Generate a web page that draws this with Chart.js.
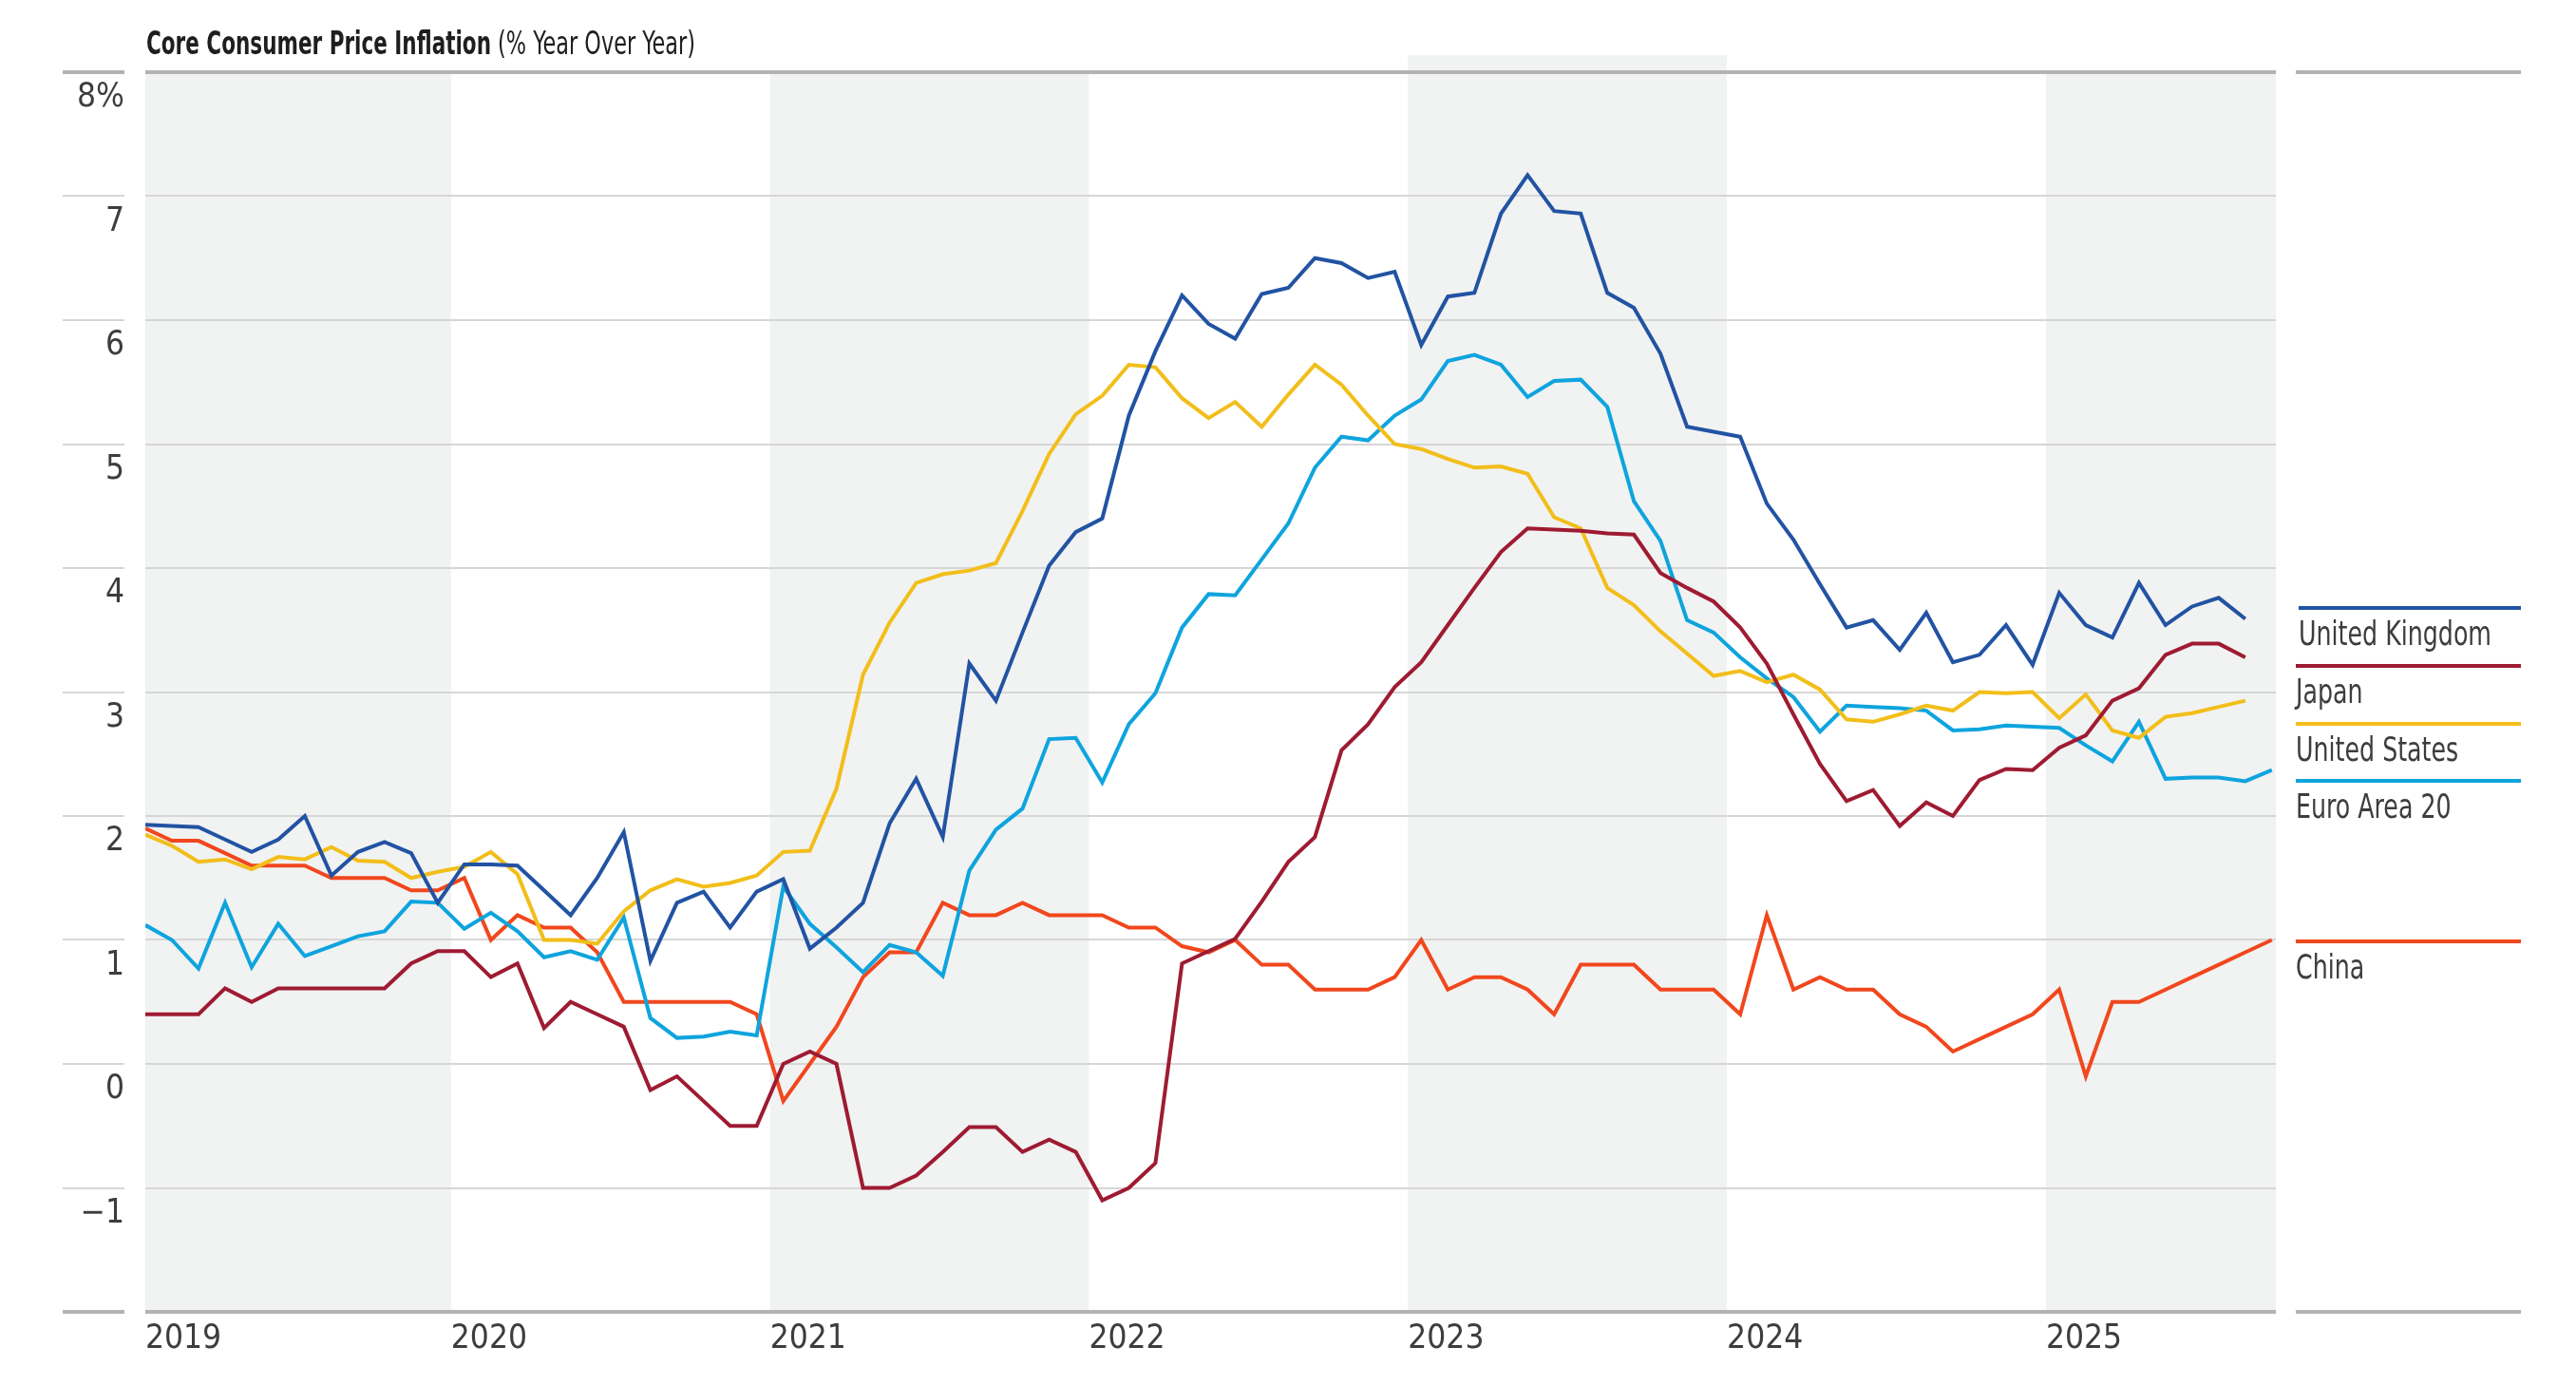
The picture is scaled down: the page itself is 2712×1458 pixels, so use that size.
<!DOCTYPE html>
<html>
<head>
<meta charset="utf-8">
<title>Core Consumer Price Inflation</title>
<script src="https://cdn.jsdelivr.net/npm/chart.js@4.4.1/dist/chart.umd.min.js"></script>
<style>
  html, body { margin: 0; padding: 0; background: #fff; }
  #wrap { width: 2712px; height: 1458px; position: relative; }
</style>
</head>
<body>
<div id="wrap"><canvas id="myChart" width="2712" height="1458"></canvas></div>
<script>
const FONT = "'Liberation Sans Narrow', 'Arial Narrow', 'DejaVu Sans Condensed', sans-serif";

// monthly observations, Jan 2019 .. Sep 2025
const months = [];
for (let yr = 2019; yr <= 2025; yr++) {
  for (let mo = 1; mo <= 12; mo++) months.push(yr + '-' + String(mo).padStart(2, '0'));
}
months.length = 81;

const yearLabels = ['2019', '2020', '2021', '2022', '2023', '2024', '2025'];
const shadedYears = ['2019', '2021', '2023', '2025'];
const yTicks = [-2, -1, 0, 1, 2, 3, 4, 5, 6, 7, 8];

const seriesNames = ['United Kingdom', 'Japan', 'United States', 'Euro Area 20', 'China'];
const seriesColors = ['#2253a3', '#9e1b32', '#f2be1a', '#0ea4de', '#f1471d'];

const ukCore = [1.93, 1.92, 1.91, 1.81, 1.71, 1.81, 2.0, 1.52, 1.71, 1.79, 1.7, 1.3,
  1.61, 1.61, 1.6, 1.4, 1.2, 1.5, 1.87, 0.83, 1.3, 1.39, 1.1, 1.39,
  1.49, 0.93, 1.1, 1.3, 1.94, 2.3, 1.83, 3.23, 2.93, 3.48, 4.02, 4.29,
  4.4, 5.23, 5.75, 6.2, 5.97, 5.85, 6.21, 6.26, 6.5, 6.46, 6.34, 6.39,
  5.8, 6.19, 6.22, 6.86, 7.17, 6.88, 6.86, 6.22, 6.1, 5.73, 5.14, 5.1,
  5.06, 4.52, 4.23, 3.87, 3.52, 3.58, 3.34, 3.64, 3.24, 3.3, 3.54, 3.22,
  3.8, 3.54, 3.44, 3.88, 3.54, 3.69, 3.76, 3.59];

const japanCore = [0.4, 0.4, 0.4, 0.61, 0.5, 0.61, 0.61, 0.61, 0.61, 0.61, 0.81, 0.91,
  0.91, 0.7, 0.81, 0.29, 0.5, 0.4, 0.3, -0.21, -0.1, -0.3, -0.5, -0.5,
  0.0, 0.1, 0.0, -1.0, -1.0, -0.9, -0.71, -0.51, -0.51, -0.71, -0.61, -0.71,
  -1.1, -1.0, -0.8, 0.81, 0.91, 1.01, 1.31, 1.63, 1.83, 2.53, 2.74, 3.04,
  3.24, 3.54, 3.84, 4.13, 4.32, 4.31, 4.3, 4.28, 4.27, 3.96, 3.84, 3.73,
  3.52, 3.23, 2.82, 2.42, 2.12, 2.21, 1.92, 2.11, 2.0, 2.29, 2.38, 2.37,
  2.55, 2.65, 2.93, 3.03, 3.3, 3.39, 3.39, 3.28];

const usCore = [1.85, 1.76, 1.63, 1.65, 1.57, 1.67, 1.65, 1.75, 1.64, 1.63, 1.5, 1.55,
  1.59, 1.71, 1.53, 1.0, 1.0, 0.97, 1.23, 1.4, 1.49, 1.43, 1.46, 1.52,
  1.71, 1.72, 2.22, 3.14, 3.56, 3.88, 3.95, 3.98, 4.04, 4.46, 4.92, 5.24,
  5.39, 5.64, 5.62, 5.37, 5.21, 5.34, 5.14, 5.4, 5.64, 5.48, 5.23, 5.0,
  4.96, 4.88, 4.81, 4.82, 4.76, 4.41, 4.32, 3.84, 3.7, 3.49, 3.31, 3.13,
  3.17, 3.08, 3.14, 3.02, 2.78, 2.76, 2.82, 2.89, 2.85, 3.0, 2.99, 3.0,
  2.79, 2.98, 2.69, 2.63, 2.8, 2.83, 2.88, 2.93];

const euroCore = [1.12, 1.0, 0.77, 1.3, 0.78, 1.13, 0.87, 0.95, 1.03, 1.07, 1.31, 1.3,
  1.09, 1.22, 1.07, 0.86, 0.91, 0.84, 1.18, 0.37, 0.21, 0.22, 0.26, 0.23,
  1.43, 1.13, 0.94, 0.74, 0.96, 0.9, 0.71, 1.56, 1.89, 2.06, 2.62, 2.63,
  2.27, 2.74, 2.99, 3.52, 3.79, 3.78, 4.07, 4.36, 4.81, 5.06, 5.03, 5.23,
  5.36, 5.67, 5.72, 5.64, 5.38, 5.51, 5.52, 5.3, 4.54, 4.22, 3.58, 3.48,
  3.28, 3.11, 2.96, 2.68, 2.89, 2.88, 2.87, 2.85, 2.69, 2.7, 2.73, 2.72,
  2.71, 2.57, 2.44, 2.76, 2.3, 2.31, 2.31, 2.28, 2.37];

const chinaCore = [1.9, 1.8, 1.8, 1.7, 1.6, 1.6, 1.6, 1.5, 1.5, 1.5, 1.4, 1.4,
  1.5, 1.0, 1.2, 1.1, 1.1, 0.9, 0.5, 0.5, 0.5, 0.5, 0.5, 0.4,
  -0.3, 0.0, 0.3, 0.7, 0.9, 0.9, 1.3, 1.2, 1.2, 1.3, 1.2, 1.2,
  1.2, 1.1, 1.1, 0.95, 0.9, 1.0, 0.8, 0.8, 0.6, 0.6, 0.6, 0.7,
  1.0, 0.6, 0.7, 0.7, 0.6, 0.4, 0.8, 0.8, 0.8, 0.6, 0.6, 0.6,
  0.4, 1.2, 0.6, 0.7, 0.6, 0.6, 0.4, 0.3, 0.1, 0.2, 0.3, 0.4,
  0.6, -0.1, 0.5, 0.5, 0.6, 0.7, 0.8, 0.9, 1.0];

const allSeries = [ukCore, japanCore, usCore, euroCore, chinaCore];

// month i sits in the middle of its month: x = i + 0.5 (months since Jan 2019)
function toPoints(values) {
  return values.map((v, i) => ({ x: i + 0.5, y: v }));
}

// draw text squeezed horizontally so it takes a given width (the original uses a condensed face)
function fillFitted(ctx, text, x, y, scaleX) {
  ctx.save();
  ctx.translate(x, y);
  ctx.scale(scaleX, 1);
  ctx.fillText(text, 0, 0);
  ctx.restore();
}

const bandsPlugin = {
  id: 'bands',
  beforeDraw(chart) {
    const { ctx, chartArea: a, scales: { x } } = chart;
    ctx.save();
    ctx.fillStyle = '#f1f2f2';
    shadedYears.forEach(yr => {
      const i = months.indexOf(yr + '-01');
      const x0 = Math.max(a.left, x.getPixelForValue(i));
      const x1 = Math.min(a.right, x.getPixelForValue(i + 12));
      const top = yr === '2023' ? a.top - 18 : a.top;
      ctx.fillRect(x0, top, x1 - x0, a.bottom - top);
    });
    ctx.restore();
  }
};

const sideLinesPlugin = {
  id: 'sideLines',
  afterDraw(chart) {
    const { ctx, scales: { y } } = chart;
    ctx.save();
    yTicks.forEach(v => {
      const py = Math.round(y.getPixelForValue(v));
      const edge = v === 8 || v === -2;
      ctx.strokeStyle = edge ? '#b3b3b3' : '#d6d6d6';
      ctx.lineWidth = edge ? 4 : 2;
      ctx.beginPath();
      ctx.moveTo(66, py);
      ctx.lineTo(131, py);
      if (edge) {
        ctx.moveTo(2417, py);
        ctx.lineTo(2654, py);
      }
      ctx.stroke();
    });
    ctx.restore();
  }
};

const titlePlugin = {
  id: 'titleText',
  afterDraw(chart) {
    const ctx = chart.ctx;
    const bold = 'Core Consumer Price Inflation';
    const rest = ' (% Year Over Year)';
    ctx.save();
    ctx.fillStyle = '#1e1e1e';
    ctx.textBaseline = 'alphabetic';
    ctx.font = 'bold 34px ' + FONT;
    fillFitted(ctx, bold, 154, 57, 363 / ctx.measureText(bold).width);
    ctx.font = '34px ' + FONT;
    fillFitted(ctx, rest, 517, 57, 215 / ctx.measureText(rest).width);
    ctx.restore();
  }
};

const legendPlugin = {
  id: 'sideLegend',
  afterDraw(chart) {
    const { ctx, scales: { y } } = chart;
    const legendAt = [3.68, 3.21, 2.74, 2.28, 0.99];
    ctx.save();
    ctx.font = '36px ' + FONT;
    const squeeze = 203 / ctx.measureText(seriesNames[0]).width;
    seriesNames.forEach((name, k) => {
      const py = Math.round(y.getPixelForValue(legendAt[k]));
      ctx.strokeStyle = seriesColors[k];
      ctx.lineWidth = 4;
      ctx.beginPath();
      ctx.moveTo(k === 0 ? 2420 : 2417, py);
      ctx.lineTo(2654, py);
      ctx.stroke();
      ctx.fillStyle = '#3d3d3d';
      ctx.textBaseline = 'alphabetic';
      fillFitted(ctx, name, k === 0 ? 2420 : 2417, py + 39, squeeze);
    });
    ctx.restore();
  }
};

const ctx = document.getElementById('myChart').getContext('2d');
new Chart(ctx, {
  type: 'line',
  data: {
    datasets: seriesNames.map((name, k) => ({
      label: name,
      data: toPoints(allSeries[k]),
      borderColor: seriesColors[k],
      backgroundColor: seriesColors[k],
      borderWidth: 4,
      pointRadius: 0,
      tension: 0,
      fill: false,
      order: k
    }))
  },
  options: {
    responsive: false,
    animation: false,
    devicePixelRatio: 1,
    layout: { padding: { left: 0, top: 76, right: 316, bottom: 0 } },
    plugins: {
      legend: { display: false },
      tooltip: { enabled: false },
      title: { display: false }
    },
    scales: {
      x: {
        type: 'linear',
        min: 0.5,
        max: 80.65,
        grid: { display: false, drawTicks: false },
        border: { display: false },
        afterBuildTicks(scale) {
          scale.ticks = yearLabels.map((_, k) => ({ value: k === 0 ? 0.5 : k * 12 }));
        },
        afterFit(scale) { scale.height = 77; },
        ticks: {
          autoSkip: false,
          maxRotation: 0,
          align: 'start',
          padding: 8,
          color: '#3d3d3d',
          font: { family: FONT, size: 35 },
          callback: (v, i) => yearLabels[i]
        }
      },
      y: {
        min: -2,
        max: 8,
        afterBuildTicks(scale) {
          scale.ticks = yTicks.map(v => ({ value: v }));
        },
        afterFit(scale) { scale.width = 153; },
        grid: {
          drawTicks: false,
          color: c => (c.tick && (c.tick.value === 8 || c.tick.value === -2)) ? '#b3b3b3' : '#d6d6d6',
          lineWidth: c => (c.tick && (c.tick.value === 8 || c.tick.value === -2)) ? 4 : 2
        },
        border: { display: false },
        ticks: {
          padding: 22,
          labelOffset: 27,
          color: '#3d3d3d',
          font: { family: FONT, size: 35 },
          callback: v => v === 8 ? '8%' : v === -2 ? '' : v < 0 ? '\u2212' + Math.abs(v) : String(v)
        }
      }
    }
  },
  plugins: [bandsPlugin, sideLinesPlugin, titlePlugin, legendPlugin]
});
</script>
</body>
</html>
